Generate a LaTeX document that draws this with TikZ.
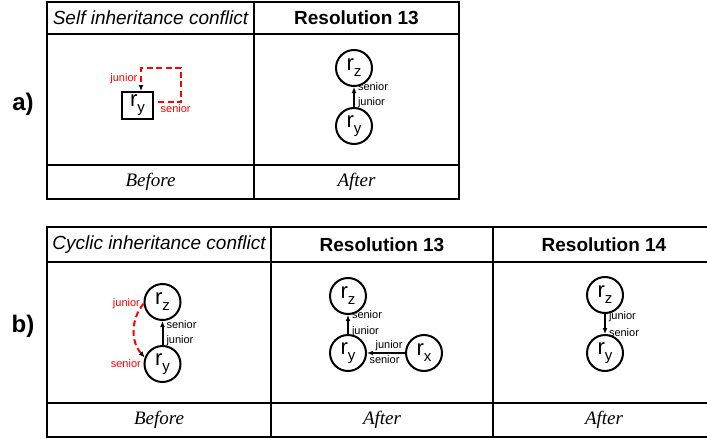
\documentclass[tikz,border=0pt]{standalone}
\usepackage{fontspec}
\setmainfont{Liberation Sans}
\newfontfamily\captionfont{Liberation Serif}
\usepackage{tikz}
\usetikzlibrary{arrows.meta, positioning}
\definecolor{conflict}{RGB}{255, 0, 0}
\definecolor{gridline}{RGB}{0, 0, 0}
\newcommand{\rolename}[1]{r\raisebox{-6pt}{\fontsize{15}{15}\selectfont #1}}
\tikzset{
  cellbox/.style={
    rectangle, draw=gridline, line width=2pt,
    outer sep=0pt, inner sep=0pt, align=center
  },
  conflicthead/.style={cellbox, font=\fontsize{19}{22}\selectfont\itshape},
  resolhead/.style={cellbox, font=\fontsize{19}{22}\selectfont\bfseries},
  bodycell/.style={cellbox},
  footcell/.style={cellbox, minimum height=34pt, font=\captionfont\itshape\fontsize{19}{22}\selectfont},
  rolenode/.style={
    circle, draw=black, line width=2pt, minimum size=36pt,
    inner sep=0pt, font=\fontsize{22}{24}\selectfont
  },
  selfnode/.style={
    rectangle, draw=black, line width=2pt, minimum width=31pt,
    minimum height=27pt, inner sep=0pt, font=\fontsize{22}{24}\selectfont
  },
  edgelabel/.style={font=\fontsize{11}{13}\selectfont, inner sep=1.5pt},
  conflictlabel/.style={edgelabel, text=conflict},
  partlabel/.style={font=\fontsize{24}{26}\selectfont\bfseries},
  flowline/.style={
    draw=black, -{Latex[length=6pt, width=5pt]}, line width=2pt
  },
  conflictline/.style={
    draw=conflict, -{Latex[length=6pt, width=5pt, color=black]},
    line width=2pt, dash pattern=on 6pt off 3.5pt
  }
}
\begin{document}
\begin{tikzpicture}[x=1pt, y=-1pt]
  \useasboundingbox (0,0) rectangle (707,439);

  % Part a: self inheritance conflict
  \node[partlabel] (aLabel) at (23,104) {a)};
  \node[conflicthead, anchor=north west, minimum width=207pt, minimum height=32pt] (aSelfHead) at (47,2) {Self inheritance conflict};
  \node[resolhead, right=0pt of aSelfHead, minimum width=205pt, minimum height=32pt] (aResHead) {Resolution 13};
  \node[bodycell, below=0pt of aSelfHead, minimum width=207pt, minimum height=131pt] (aSelfBody) {};
  \node[bodycell, below=0pt of aResHead, minimum width=205pt, minimum height=131pt] (aResBody) {};
  \node[footcell, below=0pt of aSelfBody, minimum width=207pt] (aSelfFoot) {Before};
  \node[footcell, below=0pt of aResBody, minimum width=205pt] (aResFoot) {After};

  % Before: loop on r_y
  \node[selfnode] (aSelfRy) at (137.5,105.5) {\rolename{y}};
  \coordinate (aLoop) at (181,68);
  \draw[conflictline] ([xshift=4pt, yshift=3.5pt]aSelfRy.east) -| (aLoop) -| ([xshift=3.5pt]aSelfRy.north);
  \node[conflictlabel, anchor=east] (aJunior) at (139,79) {junior};
  \node[conflictlabel, anchor=west] (aSenior) at (159,109) {senior};

  % After
  \node[rolenode] (aRz) at (354,68) {\rolename{z}};
  \node[rolenode, below=20pt of aRz] (aRy) {\rolename{y}};
  \draw[flowline] (aRy) -- (aRz)
    node[edgelabel, pos=0.2, anchor=west, xshift=1.5pt] {junior}
    node[edgelabel, pos=1, anchor=west, xshift=1.5pt] {senior};

  % Part b: cyclic inheritance conflict
  \node[partlabel] (bLabel) at (23,326) {b)};
  \node[conflicthead, anchor=north west, minimum width=224pt, minimum height=35pt] (bCycHead) at (47,227) {Cyclic inheritance conflict};
  \node[resolhead, right=0pt of bCycHead, minimum width=222pt, minimum height=35pt] (bRes13Head) {Resolution 13};
  \node[resolhead, right=0pt of bRes13Head, minimum width=222pt, minimum height=35pt] (bRes14Head) {Resolution 14};
  \node[bodycell, below=0pt of bCycHead, minimum width=224pt, minimum height=141pt] (bCycBody) {};
  \node[bodycell, below=0pt of bRes13Head, minimum width=222pt, minimum height=141pt] (bRes13Body) {};
  \node[bodycell, below=0pt of bRes14Head, minimum width=222pt, minimum height=141pt] (bRes14Body) {};
  \node[footcell, below=0pt of bCycBody, minimum width=224pt] (bCycFoot) {Before};
  \node[footcell, below=0pt of bRes13Body, minimum width=222pt] (bRes13Foot) {After};
  \node[footcell, below=0pt of bRes14Body, minimum width=222pt] (bRes14Foot) {After};

  % Before: cycle r_y <-> r_z
  \node[rolenode] (bRz) at (162.5,302) {\rolename{z}};
  \node[rolenode, below=24pt of bRz] (bRy) {\rolename{y}};
  \draw[flowline] (bRy) -- (bRz)
    node[edgelabel, pos=0.17, anchor=west, xshift=1.5pt] {junior}
    node[edgelabel, pos=0.87, anchor=west, xshift=1.5pt] {senior};
  \draw[conflictline] (bRz.185) to[bend right=40] (bRy.160);
  \node[conflictlabel, left=2pt of bRz.185] (bJunior) {junior};
  \node[conflictlabel, left=1pt of bRy.west] (bSenior) {senior};

  % Resolution 13
  \node[rolenode] (b13Rz) at (348,296) {\rolename{z}};
  \node[rolenode, below=19pt of b13Rz] (b13Ry) {\rolename{y}};
  \node[rolenode, right=38pt of b13Ry] (b13Rx) {\rolename{x}};
  \draw[flowline] (b13Ry) -- (b13Rz)
    node[edgelabel, pos=0.1, anchor=west, xshift=1.5pt] {junior}
    node[edgelabel, pos=1, anchor=west, xshift=1.5pt] {senior};
  \draw[flowline] (b13Rx) -- (b13Ry)
    node[edgelabel, at start, anchor=south east] {junior}
    node[edgelabel, at end, anchor=north west] {senior};

  % Resolution 14
  \node[rolenode] (b14Rz) at (605,295) {\rolename{z}};
  \node[rolenode, below=20pt of b14Rz] (b14Ry) {\rolename{y}};
  \draw[flowline] (b14Rz) -- (b14Ry)
    node[edgelabel, pos=0.15, anchor=west, xshift=1.5pt] {junior}
    node[edgelabel, pos=0.95, anchor=west, xshift=1.5pt] {senior};

\end{tikzpicture}
\end{document}
